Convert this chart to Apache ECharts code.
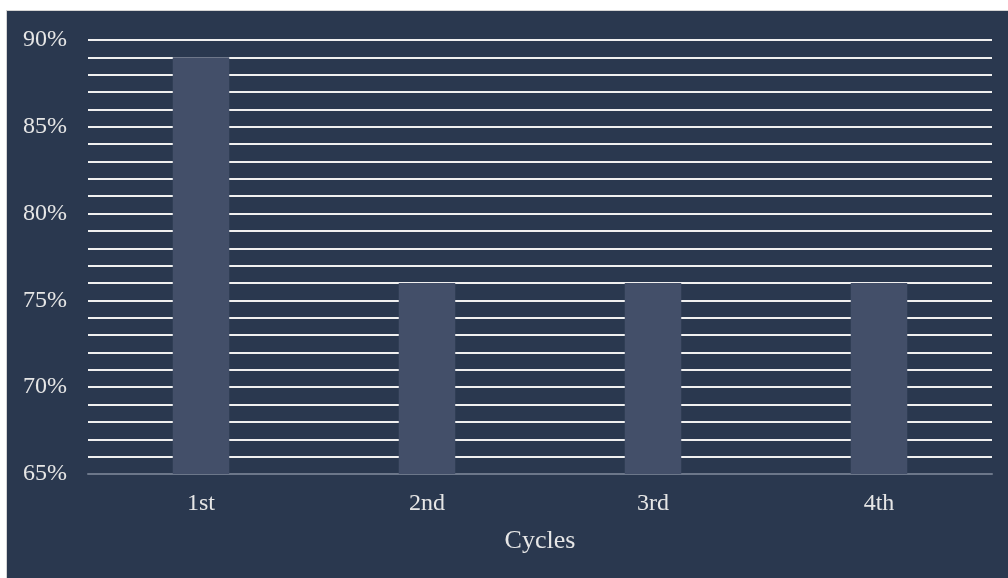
<!DOCTYPE html>
<html>
<head>
<meta charset="utf-8">
<script src="https://cdn.jsdelivr.net/npm/echarts@6/dist/echarts.min.js"></script>
<style>
  html, body { margin: 0; padding: 0; background: #ffffff; overflow: hidden; }
  #frame { position: absolute; left: 6px; top: 10px; width: 1010px; height: 580px;
           border: 1px solid #d4d4d4; box-sizing: border-box; }
  #chart { position: absolute; left: 7px; top: 11px; width: 1001px; height: 567px; }
</style>
</head>
<body>
<div id="frame"></div>
<div id="chart"></div>
<script>
// Success rate per cycle
const categories = ['1st', '2nd', '3rd', '4th'];
const rates = [89, 76, 76, 76];
const yTicks = [65, 70, 75, 80, 85, 90];

const chart = echarts.init(document.getElementById('chart'), null, { renderer: 'canvas' });
const font = '"Liberation Serif", "Times New Roman", serif';

chart.setOption({
  backgroundColor: '#2a384f',
  animation: false,
  grid: { left: 81, right: 16, top: 29, bottom: 104 },
  xAxis: {
    type: 'category',
    data: categories,
    name: 'Cycles',
    nameLocation: 'middle',
    nameGap: 54,
    nameTextStyle: { color: '#e6e6e6', fontFamily: font, fontSize: 26 },
    axisLine: { show: true, lineStyle: { color: '#6c778a', width: 2 } },
    axisTick: { show: false },
    axisLabel: { color: '#e6e6e6', fontFamily: font, fontSize: 24, margin: 18 }
  },
  yAxis: {
    type: 'value',
    min: yTicks[0],
    max: yTicks[yTicks.length - 1],
    interval: 5,
    axisLine: { show: false },
    axisTick: { show: false },
    axisLabel: { color: '#e6e6e6', fontFamily: font, fontSize: 24, margin: 21,
                 formatter: v => v + '%' },
    splitLine: { show: true, lineStyle: { color: '#f0f0f0', width: 2 } },
    minorTick: { show: false, splitNumber: 5 },
    minorSplitLine: { show: true, lineStyle: { color: '#f0f0f0', width: 2 } }
  },
  series: [{
    type: 'bar',
    data: rates,
    barWidth: '25%',
    itemStyle: { color: '#434f69' }
  }]
});
</script>
</body>
</html>
